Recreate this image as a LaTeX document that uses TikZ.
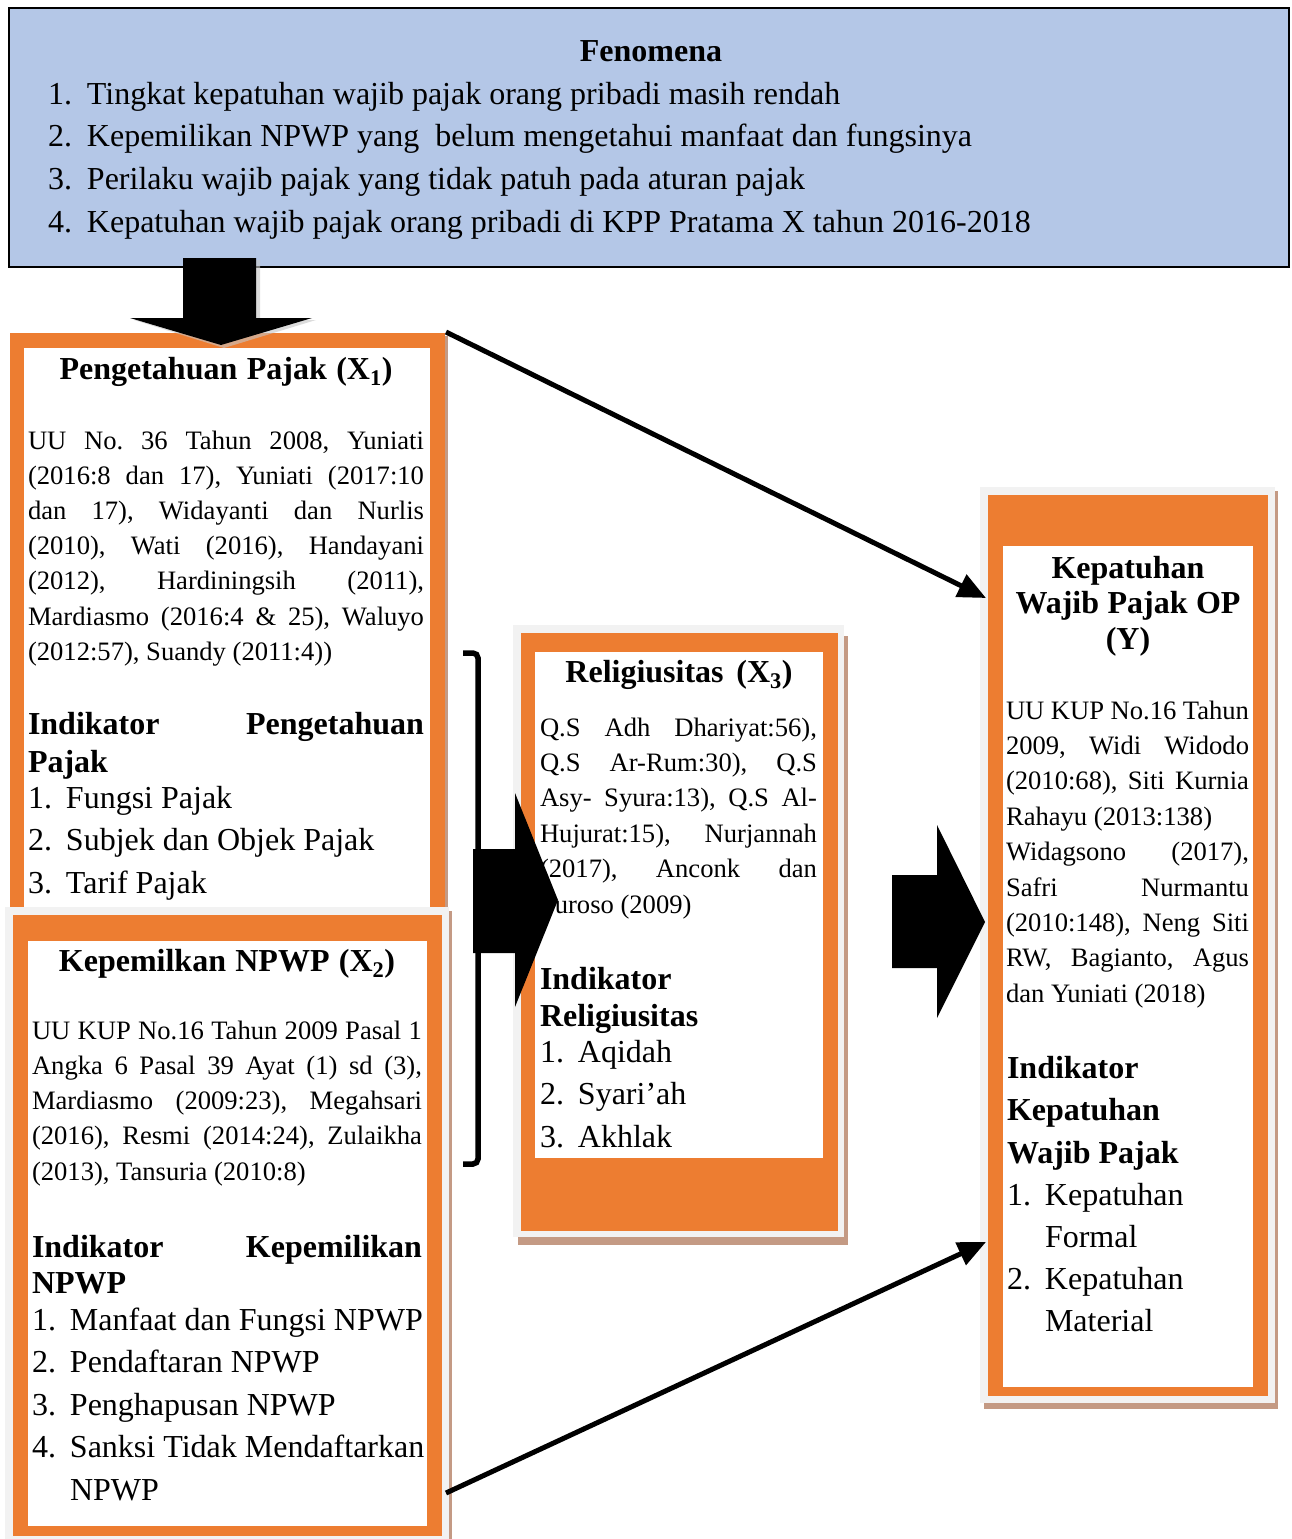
\documentclass[tikz,border=0pt]{standalone}
\usepackage{fontspec}
\setmainfont{Liberation Serif}
\usetikzlibrary{arrows.meta}
\definecolor{orng}{HTML}{ED7D31}
\definecolor{fblue}{HTML}{B4C7E7}
\definecolor{gframe}{HTML}{F2F2F2}
\definecolor{shbrown}{HTML}{C49A84}
\frenchspacing
\newcommand\ns{\frenchspacing\spaceskip=0pt\xspaceskip=0pt\hyphenpenalty=10000\relax}
\newcommand\jl[2]{\leavevmode\hbox to #1pt{\frenchspacing\spaceskip=.25em plus 1fil minus .1em\xspaceskip=\spaceskip\relax #2}}
\newcommand\nm[1]{\makebox[38pt][l]{#1}}
\newcommand\fn[1]{\makebox[39pt][l]{#1}}
\begin{document}
\begin{tikzpicture}[x=1pt,y=-1pt,
  txt/.style={inner sep=0pt, outer sep=0pt, anchor=base west, align=left},
  ttl/.style={inner sep=0pt, outer sep=0pt, anchor=base, align=center, text width=380pt, font=\fontsize{32}{35.5}\selectfont\bfseries},
  blk/.style={fill=black, draw=none},
  conn/.style={line width=5pt, -{Triangle[length=28pt,width=24pt]}},
]
\useasboundingbox[fill=white] (0,0) rectangle (1292,1539);

% ---------------- Fenomena ----------------
\node[draw=black, line width=2pt, fill=fblue, anchor=north west, minimum width=1280pt, minimum height=259pt, inner sep=0pt, outer sep=0pt] (fen) at (9,8) {};
\node[ttl] (fenT) at (651,61) {\ns Fenomena};
\node[txt, text width=1200pt, font=\fontsize{32}{42.7}\selectfont] (fenL) at (48,104) {\ns\fn{1.}Tingkat kepatuhan wajib pajak orang pribadi masih rendah\\
\fn{2.}Kepemilikan NPWP yang\ \ belum mengetahui manfaat dan fungsinya\\
\fn{3.}Perilaku wajib pajak yang tidak patuh pada aturan pajak\\
\fn{4.}Kepatuhan wajib pajak orang pribadi di KPP Pratama X tahun 2016-2018};

% ---------------- X1 box ----------------
\fill[shbrown] (13,336) rectangle (448,915);
\fill[orng] (10,333) rectangle (445,912);
\fill[white] (24,348) rectangle (430,912);
\node[ttl] (x1T) at (226,379) {\ns Pengetahuan Pajak (X\textsubscript{1})};
\node[txt, text width=396pt, font=\fontsize{26.6}{35.2}\selectfont] (x1P) at (28,449) {\ns\jl{396}{UU No. 36 Tahun 2008, Yuniati}\\
\jl{396}{(2016:8 dan 17), Yuniati (2017:10}\\
\jl{396}{dan 17), Widayanti dan Nurlis}\\
\jl{396}{(2010), Wati (2016), Handayani}\\
\jl{396}{(2012), Hardiningsih (2011),}\\
\jl{396}{Mardiasmo (2016:4 \& 25), Waluyo}\\
(2012:57), Suandy (2011:4))};
\node[txt, text width=396pt, font=\fontsize{32}{38}\selectfont\bfseries] (x1H) at (28,734) {\ns\jl{396}{Indikator Pengetahuan}\\Pajak};
\node[txt, text width=410pt, font=\fontsize{32}{42.5}\selectfont] (x1L) at (28,808) {\ns\nm{1.}Fungsi Pajak\\\nm{2.}Subjek dan Objek Pajak\\\nm{3.}Tarif Pajak};

% ---------------- X2 box ----------------
\fill[shbrown] (8,911) rectangle (452,1539);
\fill[gframe] (5,907) rectangle (449,1539);
\fill[orng] (13,915) rectangle (442,1536);
\fill[white] (28,941) rectangle (427,1526);
\node[ttl] (x2T) at (227,971) {\ns Kepemilkan NPWP (X\textsubscript{2})};
\node[txt, text width=390pt, font=\fontsize{26.6}{35.25}\selectfont] (x2P) at (32,1039) {\ns\jl{390}{UU KUP No.16 Tahun 2009 Pasal 1}\\
\jl{390}{Angka 6 Pasal 39 Ayat (1) sd (3),}\\
\jl{390}{Mardiasmo (2009:23), Megahsari}\\
\jl{390}{(2016), Resmi (2014:24), Zulaikha}\\
(2013), Tansuria (2010:8)};
\node[txt, text width=390pt, font=\fontsize{32}{36}\selectfont\bfseries] (x2H) at (32,1257) {\ns\jl{390}{Indikator Kepemilikan}\\NPWP};
\node[txt, text width=430pt, font=\fontsize{32}{42.5}\selectfont] (x2L) at (32,1330) {\ns\nm{1.}Manfaat dan Fungsi NPWP\\\nm{2.}Pendaftaran NPWP\\\nm{3.}Penghapusan NPWP\\\nm{4.}Sanksi Tidak Mendaftarkan\\\hspace*{38pt}NPWP};

% ---------------- down arrow ----------------
\fill[gray!45, opacity=0.6] (187,260) -- (260,260) -- (260,320) -- (316,320) -- (224,348) -- (134,320) -- (187,320) -- cycle;
\fill[blk] (183,258) -- (256,258) -- (256,318) -- (312,318) -- (221,345) -- (130,318) -- (183,318) -- cycle;

% ---------------- X3 box ----------------
\fill[shbrown] (518,636) rectangle (848,1245);
\fill[gframe] (513,625) rectangle (844,1237);
\fill[orng] (521,633) rectangle (838,1231);
\fill[white] (535,652) rectangle (823,1158);
\node[ttl] (x3T) at (679,682) {\ns Religiusitas (X\textsubscript{3})};
\node[txt, text width=277pt, font=\fontsize{26.6}{35.4}\selectfont] (x3P) at (540,736) {\ns\jl{277}{Q.S Adh Dhariyat:56),}\\
\jl{277}{Q.S Ar-Rum:30), Q.S}\\
\jl{277}{Asy- Syura:13), Q.S Al-}\\
\jl{277}{Hujurat:15), Nurjannah}\\
\jl{277}{(2017), Anconk dan}\\
Suroso (2009)};
\node[txt, text width=277pt, font=\fontsize{32}{37}\selectfont\bfseries] (x3H) at (540,989) {\ns Indikator\\Religiusitas};
\node[txt, text width=277pt, font=\fontsize{32}{42.5}\selectfont] (x3L) at (540,1062) {\ns\nm{1.}Aqidah\\\nm{2.}Syari’ah\\\nm{3.}Akhlak};

% bracket
\coordinate (brT) at (463,653);
\coordinate (brB) at (463,1164);
\draw[line width=5.5pt, rounded corners=5pt] (brT) -- (478,653) -- (478,1164) -- (brB);

% middle block arrow
\fill[blk] (473,849) -- (515,849) -- (515,793) -- (558,900) -- (515,1007) -- (515,953) -- (473,953) -- cycle;

% ---------------- Y box ----------------
\fill[shbrown] (984,491) rectangle (1278,1409);
\fill[gframe] (980,487) rectangle (1275,1403);
\fill[orng] (988,495) rectangle (1268,1396);
\fill[white] (1003,546) rectangle (1253,1387);
\node[ttl, text width=240pt] (yT) at (1128,578) {\ns Kepatuhan\\Wajib Pajak OP\\(Y)};
\node[txt, text width=243pt, font=\fontsize{26.6}{35.4}\selectfont] (yP) at (1006,719) {\ns\jl{243}{UU KUP No.16 Tahun}\\
\jl{243}{2009, Widi Widodo}\\
\jl{243}{(2010:68), Siti Kurnia}\\
Rahayu (2013:138)\\
\jl{243}{Widagsono (2017),}\\
\jl{243}{Safri Nurmantu}\\
\jl{243}{(2010:148), Neng Siti}\\
\jl{243}{RW, Bagianto, Agus}\\
dan Yuniati (2018)};
\node[txt, text width=243pt, font=\fontsize{32}{42.5}\selectfont\bfseries] (yH) at (1007,1078) {\ns Indikator\\Kepatuhan\\Wajib Pajak};
\node[txt, text width=243pt, font=\fontsize{32}{42.3}\selectfont] (yL) at (1007,1205) {\ns\nm{1.}Kepatuhan\\\hspace*{38pt}Formal\\\nm{2.}Kepatuhan\\\hspace*{38pt}Material};

% right block arrow
\fill[blk] (892,875) -- (937,875) -- (937,825) -- (985,922) -- (937,1018) -- (937,968) -- (892,968) -- cycle;

% ---------------- connectors ----------------
\coordinate (x1ne) at (446,332);
\coordinate (yin1) at (986,598);
\coordinate (x2se) at (446,1493);
\coordinate (yin2) at (986,1242);
\draw[conn] (x1ne) -- (yin1);
\draw[conn] (x2se) -- (yin2);
\end{tikzpicture}
\end{document}
